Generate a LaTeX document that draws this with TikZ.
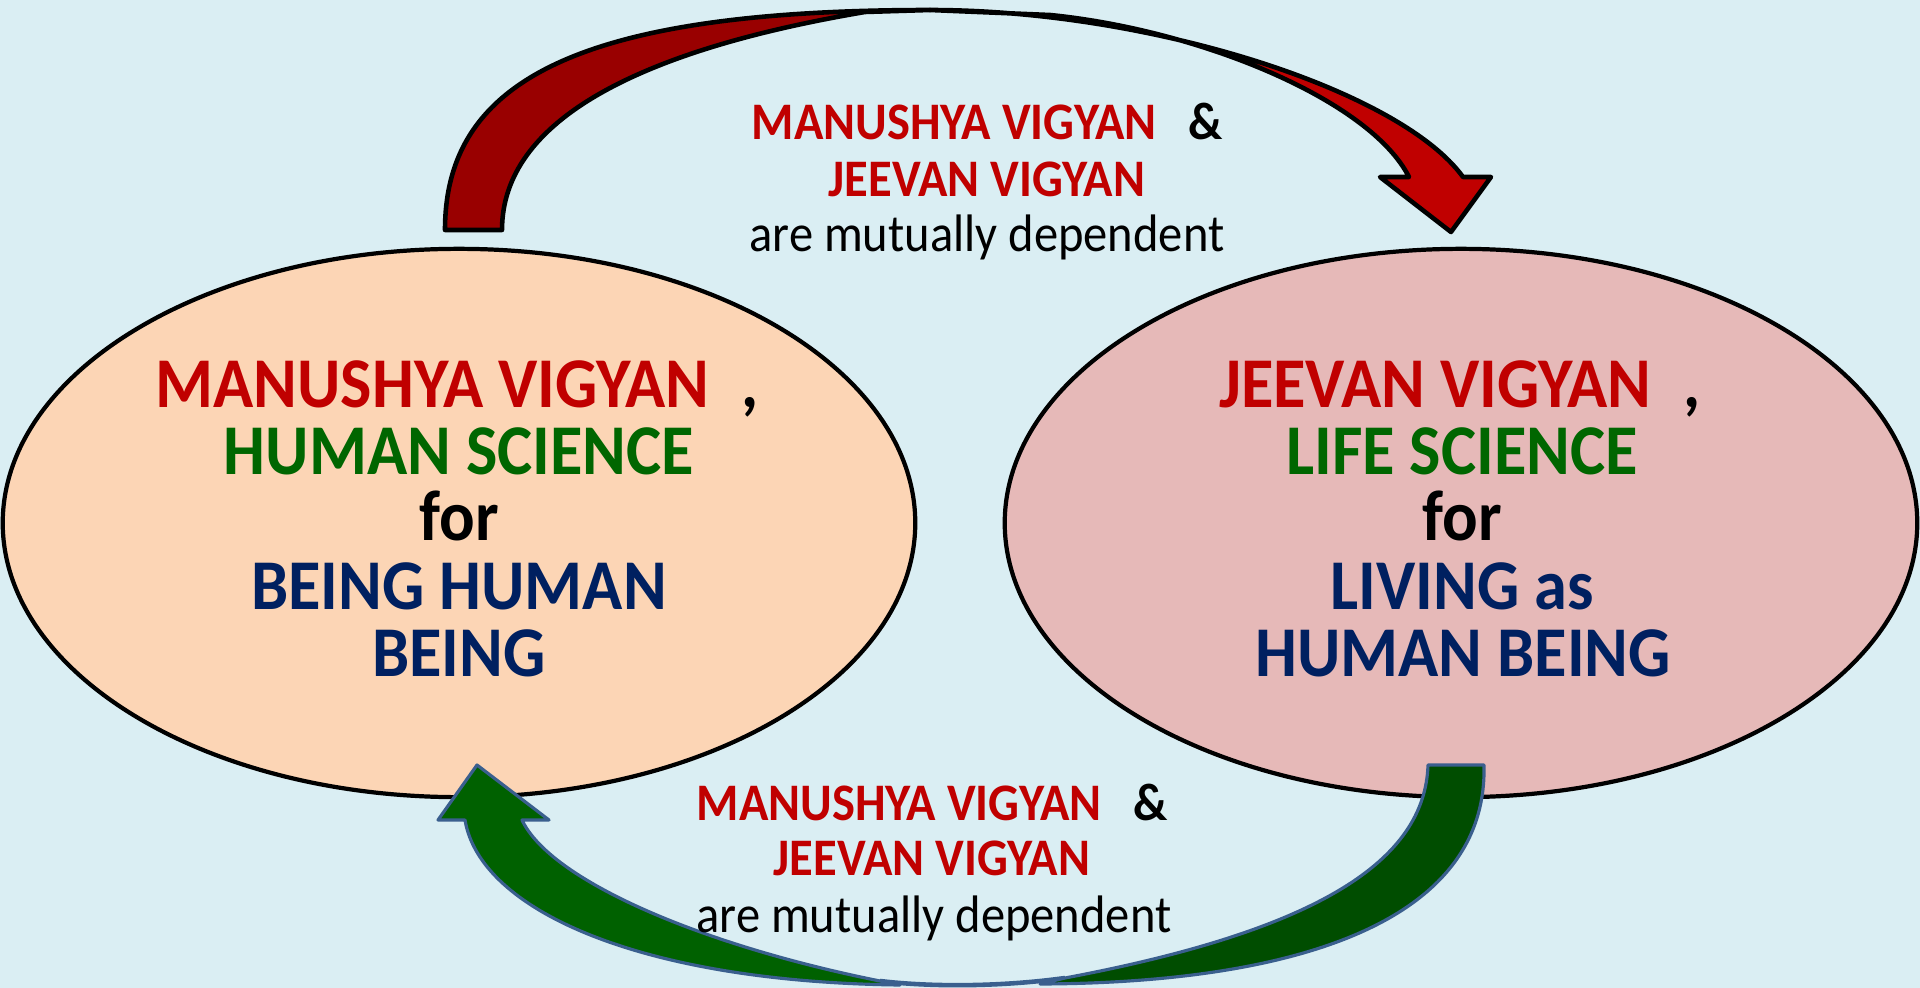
\documentclass[tikz,border=0pt]{standalone}
\usepackage{fontspec}
\setmainfont{Carlito}
\newfontfamily\cfont[FakeStretch=0.93]{Carlito}
\newfontfamily\lfont[FakeStretch=0.92]{Carlito}
\usetikzlibrary{shapes.geometric}
\definecolor{bg}{HTML}{DAEEF3}
\definecolor{lfill}{HTML}{FCD5B5}
\definecolor{rfill}{HTML}{E6B9B8}
\definecolor{tred}{HTML}{C00000}
\definecolor{tgreen}{HTML}{006600}
\definecolor{tnavy}{HTML}{002060}
\definecolor{adark}{HTML}{990000}
\definecolor{alight}{HTML}{C00000}
\definecolor{gfront}{HTML}{006100}
\definecolor{gback}{HTML}{004D00}
\definecolor{gline}{HTML}{3A5F8E}
\begin{document}
\begin{tikzpicture}[x=0.01cm,y=-0.01cm,
 ell/.style={draw=black, line width=1.2pt, ellipse, minimum width=9.12cm, minimum height=5.48cm, inner sep=0pt},
 etext/.style={anchor=base, inner sep=0pt, font=\cfont\bfseries\fontsize{20.3pt}{24pt}\selectfont},
 ltext/.style={anchor=base, inner sep=0pt, font=\lfont\bfseries\fontsize{15pt}{18pt}\selectfont},
 lplain/.style={anchor=base, inner sep=0pt, font=\lfont\fontsize{15pt}{18pt}\selectfont},
 redarrow/.style={draw=black, line width=1.3pt, line join=round},
 greenarrow/.style={draw=gline, line width=0.9pt, line join=round}]
\fill[bg] (0,0) rectangle (1920,988);
\useasboundingbox (0,0) rectangle (1920,988);

% ellipses
\node[ell, fill=lfill] (LE) at (459,523) {};
\node[ell, fill=rfill] (RE) at (1461,523) {};

% ---- top curved arrow ----
\coordinate (ta0) at (445,230);  % back part, outer base
\coordinate (ta1) at (502,230);  % back part, inner base
\coordinate (tpk) at (930,10);   % peak of outer rim
\coordinate (ttip) at (865,12);  % end of back part
\coordinate (tfs) at (1050,15);  % start of front part
\coordinate (tho) at (1463,177); % shaft outer at head
\coordinate (thi) at (1409,177); % shaft inner at head
\coordinate (thr) at (1491,177);
\coordinate (thl) at (1380,177);
\coordinate (thp) at (1451,232);
% back part
\path[redarrow, fill=adark]
  (ta0) .. controls (445,80) and (580,10) .. (tpk) -- (ttip)
  .. controls (640,50) and (502,120) .. (ta1) -- cycle;
% front part
\path[redarrow, fill=alight]
  (tpk) .. controls (1150,10) and (1400,90) .. (tho) -- (thr) -- (thp) -- (thl) -- (thi)
  .. controls (1370,100) and (1200,30) .. (tfs) -- cycle;

% ---- bottom curved arrow ----
\coordinate (ba0) at (1484,765); % back part, outer base
\coordinate (ba1) at (1428,765); % back part, inner base
\coordinate (bbo) at (1040,984); % end of back outer rim
\coordinate (btip) at (1065,978);% end of back part
\coordinate (bfo) at (900,985);  % end of front outer rim
\coordinate (bfi) at (880,981);  % end of front part
\coordinate (bho) at (465,820);  % shaft outer at head
\coordinate (bhi) at (522,820);  % shaft inner at head
\coordinate (bhl) at (438,820);
\coordinate (bhr) at (549,820);
\coordinate (bhp) at (477,765);
% outer rim between the two parts
\draw[gline, line width=1.3pt] (bfi) .. controls (930,987) and (1000,987) .. (btip);
% back part
\path[greenarrow, fill=gback]
  (ba0) .. controls (1488,920) and (1300,983) .. (bbo) -- (btip)
  .. controls (1320,930) and (1425,860) .. (ba1) -- cycle;
% front part
\path[greenarrow, fill=gfront]
  (bhp) -- (bhr) -- (bhi) .. controls (550,880) and (700,945) .. (bfi) -- (bfo)
  .. controls (640,982) and (480,910) .. (bho) -- (bhl) -- cycle;

% ellipse texts
\node[etext, text=tred] (L1) at (457,408) {MANUSHYA VIGYAN\hspace{0.45em}\textcolor{black}{,}};
\node[etext, text=tgreen] (L2) at (459,475) {HUMAN SCIENCE};
\node[etext, text=black] (L3) at (459,541) {for};
\node[etext, text=tnavy] (L4) at (459,610) {BEING HUMAN};
\node[etext, text=tnavy] (L5) at (459,676) {BEING};

\node[etext, text=tred] (R1) at (1460,408) {JEEVAN VIGYAN\hspace{0.45em}\textcolor{black}{,}};
\node[etext, text=tgreen] (R2) at (1462,475) {LIFE SCIENCE};
\node[etext, text=black] (R3) at (1462,541) {for};
\node[etext, text=tnavy] (R4) at (1462,610) {LIVING as};
\node[etext, text=tnavy] (R5) at (1463,676) {HUMAN BEING};

% labels on arrows
\node[ltext] (T1) at (987,140) {\textcolor{tred}{MANUSHYA VIGYAN}\hspace{0.6em}\&};
\node[ltext, text=tred] (T2) at (987,197) {JEEVAN VIGYAN};
\node[lplain] (T3) at (987,252) {are mutually dependent};

\node[ltext] (B1) at (932,820) {\textcolor{tred}{MANUSHYA VIGYAN}\hspace{0.6em}\&};
\node[ltext, text=tred] (B2) at (932,875) {JEEVAN VIGYAN};
\node[lplain] (B3) at (934,932) {are mutually dependent};
\end{tikzpicture}
\end{document}
